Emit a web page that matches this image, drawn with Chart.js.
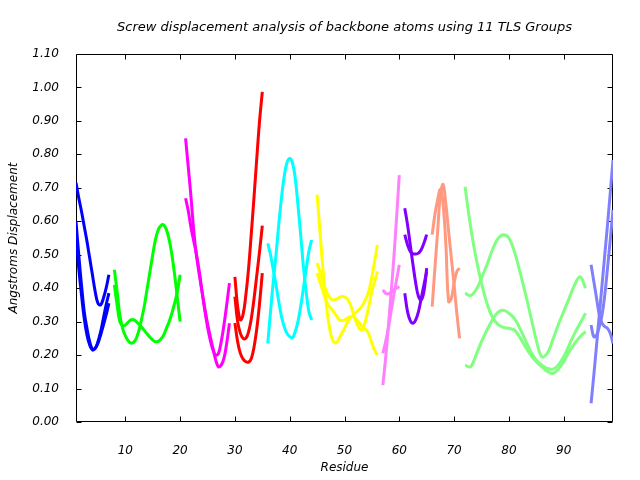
<!DOCTYPE html>
<html><head><meta charset="utf-8">
<script src="https://cdn.jsdelivr.net/npm/chart.js@4"></script>
<style>html,body{margin:0;padding:0;background:#fff}</style>
</head><body>
<canvas id="c" width="640" height="480"></canvas>
<script>
// ---- text ----
const chartTitle = 'Screw displacement analysis of backbone atoms using 11 TLS Groups';
const xLabel = 'Residue';
const yLabel = 'Angstroms Displacement';
const xTicks = [10, 20, 30, 40, 50, 60, 70, 80, 90];
const yTicks = [0, 0.1, 0.2, 0.3, 0.4, 0.5, 0.6, 0.7, 0.8, 0.9, 1.0, 1.1];

// ---- group 1 (blue) ----
const g1Res = [1, 1.5, 2, 2.5, 3, 3.5, 4, 4.5, 5, 5.5, 6, 6.5, 7];
const g1a = [0.715, 0.67, 0.63, 0.585, 0.54, 0.49, 0.44, 0.39, 0.355, 0.35, 0.37, 0.40, 0.44];
const g1b = [0.60, 0.50, 0.41, 0.33, 0.28, 0.24, 0.218, 0.22, 0.24, 0.27, 0.31, 0.35, 0.385];
const g1c = [0.55, 0.46, 0.38, 0.31, 0.26, 0.23, 0.215, 0.22, 0.235, 0.26, 0.29, 0.32, 0.355];

// ---- group 2 (green) ----
const g2Res = [8, 8.5, 9, 9.5, 10, 10.5, 11, 11.5, 12, 12.5, 13, 13.5, 14, 14.5, 15, 15.5, 16, 16.5, 17, 17.5, 18, 18.5, 19, 19.5, 20];
const g2a = [0.455, 0.39, 0.32, 0.28, 0.258, 0.243, 0.236, 0.238, 0.25, 0.275, 0.31, 0.35, 0.40, 0.45, 0.50, 0.545, 0.574, 0.587, 0.589, 0.575, 0.545, 0.50, 0.44, 0.37, 0.30];
const g2b = [0.41, 0.35, 0.30, 0.288, 0.29, 0.298, 0.305, 0.306, 0.30, 0.292, 0.283, 0.273, 0.263, 0.253, 0.245, 0.24, 0.241, 0.248, 0.26, 0.28, 0.30, 0.325, 0.355, 0.39, 0.44];

// ---- group 3 (magenta) ----
const g3Res = [21, 21.5, 22, 22.5, 23, 23.5, 24, 24.5, 25, 25.5, 26, 26.5, 27, 27.5, 28, 28.5, 29];
const g3a = [0.848, 0.76, 0.67, 0.57, 0.495, 0.44, 0.39, 0.34, 0.295, 0.255, 0.22, 0.185, 0.165, 0.17, 0.19, 0.235, 0.295];
const g3b = [0.669, 0.63, 0.58, 0.54, 0.50, 0.45, 0.39, 0.335, 0.285, 0.245, 0.215, 0.20, 0.205, 0.24, 0.29, 0.35, 0.415];

// ---- group 4 (red) ----
const g4Res = [30, 30.5, 31, 31.5, 32, 32.5, 33, 33.5, 34, 34.5, 35];
const g4a = [0.434, 0.345, 0.305, 0.322, 0.38, 0.46, 0.565, 0.675, 0.79, 0.90, 0.987];
const g4b = [0.375, 0.30, 0.265, 0.25, 0.25, 0.27, 0.31, 0.37, 0.44, 0.51, 0.587];
const g4c = [0.296, 0.24, 0.205, 0.188, 0.18, 0.179, 0.19, 0.225, 0.28, 0.355, 0.445];

// ---- group 5 (cyan) ----
const g5Res = [36, 36.5, 37, 37.5, 38, 38.5, 39, 39.5, 40, 40.5, 41, 41.5, 42, 42.5, 43, 43.5, 44];
const g5a = [0.235, 0.33, 0.42, 0.50, 0.59, 0.67, 0.735, 0.775, 0.788, 0.775, 0.73, 0.65, 0.56, 0.465, 0.39, 0.33, 0.305];
const g5b = [0.534, 0.50, 0.455, 0.41, 0.36, 0.315, 0.285, 0.265, 0.255, 0.252, 0.27, 0.30, 0.345, 0.40, 0.455, 0.51, 0.544];

// ---- group 6 (yellow) ----
const g6Res = [45, 45.5, 46, 46.5, 47, 47.5, 48, 48.5, 49, 49.5, 50, 50.5, 51, 51.5, 52, 52.5, 53, 53.5, 54, 54.5, 55, 55.5, 56];
const g6a = [0.68, 0.575, 0.47, 0.38, 0.31, 0.262, 0.24, 0.237, 0.25, 0.265, 0.28, 0.297, 0.31, 0.318, 0.326, 0.334, 0.342, 0.355, 0.372, 0.395, 0.434, 0.48, 0.53];
const g6b = [0.475, 0.45, 0.425, 0.40, 0.38, 0.368, 0.365, 0.367, 0.372, 0.375, 0.374, 0.368, 0.355, 0.33, 0.305, 0.285, 0.275, 0.285, 0.315, 0.35, 0.39, 0.42, 0.45];
const g6c = [0.445, 0.42, 0.395, 0.37, 0.35, 0.34, 0.33, 0.318, 0.307, 0.303, 0.305, 0.31, 0.315, 0.316, 0.31, 0.30, 0.29, 0.28, 0.275, 0.26, 0.235, 0.215, 0.20];

// ---- group 7 (pink) ----
const g7Res = [57, 57.5, 58, 58.5, 59, 59.5, 60];
const g7a = [0.11, 0.19, 0.285, 0.385, 0.49, 0.61, 0.738];
const g7b = [0.395, 0.385, 0.383, 0.388, 0.395, 0.40, 0.405];
const g7c = [0.205, 0.24, 0.28, 0.33, 0.38, 0.425, 0.47];

// ---- group 8 (purple) ----
const g8Res = [61, 61.5, 62, 62.5, 63, 63.5, 64, 64.5, 65];
const g8a = [0.639, 0.59, 0.53, 0.47, 0.415, 0.375, 0.365, 0.39, 0.46];
const g8b = [0.56, 0.53, 0.51, 0.503, 0.502, 0.505, 0.515, 0.535, 0.56];
const g8c = [0.385, 0.33, 0.303, 0.295, 0.305, 0.33, 0.37, 0.41, 0.45];

// ---- group 9 (salmon) ----
const g9Res = [66, 66.5, 67, 67.5, 68, 68.5, 69, 69.5, 70, 70.5, 71];
const g9a = [0.345, 0.46, 0.57, 0.68, 0.71, 0.65, 0.57, 0.49, 0.41, 0.325, 0.25];
const g9b = [0.56, 0.62, 0.665, 0.695, 0.65, 0.53, 0.36, 0.37, 0.415, 0.45, 0.46];

// ---- group 10 (light green) ----
const g10Res = [72, 73, 74, 75, 76, 77, 78, 79, 80, 81, 82, 83, 84, 85, 86, 87, 88, 89, 90, 91, 92, 93, 94];
const g10a = [0.703, 0.585, 0.49, 0.415, 0.355, 0.313, 0.292, 0.283, 0.28, 0.275, 0.253, 0.225, 0.20, 0.18, 0.165, 0.152, 0.145, 0.158, 0.18, 0.21, 0.235, 0.255, 0.27];
const g10b = [0.385, 0.378, 0.395, 0.43, 0.47, 0.515, 0.548, 0.56, 0.55, 0.51, 0.45, 0.385, 0.315, 0.245, 0.195, 0.205, 0.245, 0.29, 0.33, 0.37, 0.41, 0.434, 0.40];
const g10c = [0.17, 0.165, 0.20, 0.24, 0.275, 0.305, 0.328, 0.334, 0.325, 0.31, 0.28, 0.245, 0.21, 0.185, 0.17, 0.16, 0.158, 0.17, 0.195, 0.23, 0.265, 0.295, 0.325];

// ---- group 11 (light blue) ----
const g11Res = [95, 95.5, 96, 96.5, 97, 97.5, 98, 98.5, 99];
const g11a = [0.47, 0.42, 0.37, 0.32, 0.295, 0.285, 0.28, 0.265, 0.235];
const g11b = [0.056, 0.14, 0.23, 0.32, 0.41, 0.50, 0.59, 0.685, 0.783];
const g11c = [0.29, 0.255, 0.26, 0.285, 0.32, 0.38, 0.46, 0.545, 0.634];

const groups = [
  { res: g1Res, series: [g1a, g1b, g1c], color: '#0000ff' },
  { res: g2Res, series: [g2a, g2b], color: '#00ff00' },
  { res: g3Res, series: [g3a, g3b], color: '#ff00ff' },
  { res: g4Res, series: [g4a, g4b, g4c], color: '#ff0000' },
  { res: g5Res, series: [g5a, g5b], color: '#00ffff' },
  { res: g6Res, series: [g6a, g6b, g6c], color: '#ffff00' },
  { res: g7Res, series: [g7a, g7b, g7c], color: '#ff80ff' },
  { res: g8Res, series: [g8a, g8b, g8c], color: '#8000ff' },
  { res: g9Res, series: [g9a, g9b], color: '#ff9980' },
  { res: g10Res, series: [g10a, g10b, g10c], color: '#80ff80' },
  { res: g11Res, series: [g11a, g11b, g11c], color: '#8080ff' }
];

const datasets = [];
let ord = 1000;
groups.forEach(g => {
  g.series.forEach(vals => {
    datasets.push({
      data: g.res.map((r, i) => ({ x: r, y: vals[i] })),
      borderColor: g.color,
      backgroundColor: g.color,
      borderWidth: 3,
      pointRadius: 0,
      fill: false,
      tension: 0.4,
      order: ord--
    });
  });
});

const FONT = { family: 'DejaVu Sans', size: 12, style: 'italic', weight: 'normal' };
const TITLE_FONT = { family: 'DejaVu Sans', size: 13, style: 'italic', weight: 'normal' };

const framePlugin = {
  id: 'frame',
  beforeDatasetsDraw(chart) {
    const { ctx, chartArea: a, scales } = chart;
    const x = scales.x, y = scales.y;
    ctx.save();
    ctx.strokeStyle = '#000';
    ctx.lineWidth = 1;
    ctx.beginPath();
    const L = Math.round(a.left) + 0.5, R = Math.round(a.right) - 0.5;
    const T = Math.round(a.top) + 0.5, B = Math.round(a.bottom) - 0.5;
    ctx.rect(L, T, R - L, B - T);
    const tl = 5;
    x.ticks.forEach(t => {
      const px = Math.round(x.getPixelForValue(t.value)) + 0.5;
      ctx.moveTo(px, B); ctx.lineTo(px, B - tl);
      ctx.moveTo(px, T); ctx.lineTo(px, T + tl);
    });
    y.ticks.forEach(t => {
      const py = Math.round(y.getPixelForValue(t.value)) + 0.5;
      ctx.moveTo(L, py); ctx.lineTo(L + tl, py);
      ctx.moveTo(R, py); ctx.lineTo(R - tl, py);
    });
    ctx.stroke();
    ctx.restore();
  }
};

new Chart(document.getElementById('c'), {
  type: 'line',
  data: { datasets },
  plugins: [framePlugin],
  options: {
    responsive: false,
    animation: false,
    devicePixelRatio: 1,
    events: [],
    layout: { padding: { left: 0, right: 27, top: 0, bottom: 0 } },
    plugins: {
      legend: { display: false },
      tooltip: { enabled: false },
      title: {
        display: true, text: chartTitle, color: '#000', font: TITLE_FONT,
        padding: { top: 20, bottom: 18.4 }, fullSize: false
      }
    },
    scales: {
      x: {
        type: 'linear', min: 1, max: 99,
        afterBuildTicks: s => { s.ticks = xTicks.map(v => ({ value: v })); },
        afterFit: s => { s.height = 58; },
        grid: { display: false },
        border: { display: false },
        ticks: { color: '#000', font: FONT, padding: 14, maxRotation: 0, callback: v => String(v) },
        title: { display: true, text: xLabel, color: '#000', font: FONT, padding: { top: 0, bottom: 5 } }
      },
      y: {
        type: 'linear', min: 0, max: 1.1,
        afterBuildTicks: s => { s.ticks = yTicks.map(v => ({ value: v })); },
        afterFit: s => { s.width = 76; },
        grid: { display: false },
        border: { display: false },
        ticks: { color: '#000', font: FONT, padding: 9, callback: v => Number(v).toFixed(2) },
        title: { display: true, text: yLabel, color: '#000', font: FONT, padding: { top: 7, bottom: 0 } }
      }
    }
  }
});
</script>
</body></html>
